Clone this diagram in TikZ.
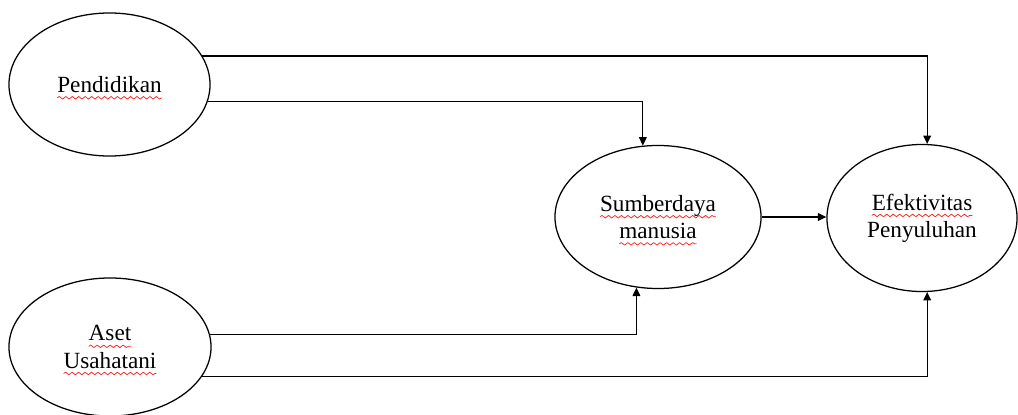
\documentclass[tikz,border=0pt]{standalone}
\usepackage{fontspec}
\setmainfont{Liberation Serif}
\usetikzlibrary{shapes.geometric,arrows.meta,decorations.pathmorphing}

% red wavy underline, as a spell checker marks words
\newsavebox\wavebox
\newcommand\redwave[1]{%
  \sbox\wavebox{#1}%
  \rlap{\tikz[overlay,baseline=0pt,x=1pt,y=1pt]{%
    \draw[red!85, line width=0.55pt, line join=round,
      decorate, decoration={snake, amplitude=0.9pt, segment length=4.6pt}]
      (0,-3.8) -- (\the\wd\wavebox,-3.8);}}%
  \usebox\wavebox}

\tikzset{
  var/.style={draw, ellipse, line width=0.9pt, inner sep=0pt, align=center,
    font=\fontsize{16.5}{19.3}\selectfont},
  link/.style={line width=0.9pt, -{Triangle[length=6pt,width=5.5pt]}}
}

\begin{document}
\begin{tikzpicture}[x=0.025cm, y=-0.025cm]
  \useasboundingbox (0,0) rectangle (1018,414);

  % variables
  \node[var, minimum width=5.025cm, minimum height=3.575cm] (pend) at (109.5,84.5) {\redwave{Pendidikan}};
  \node[var, minimum width=5.05cm, minimum height=3.45cm] (aset) at (110,347) {\redwave{Aset}\\\redwave{Usahatani}};
  \node[var, minimum width=5.15cm, minimum height=3.575cm] (sdm) at (658,217) {\redwave{Sumberdaya}\\\redwave{manusia}};
  \node[var, minimum width=4.75cm, minimum height=3.675cm] (ef) at (922,218) {\redwave{Efektivitas}\\Penyuluhan};

  % paths between variables
  \draw[link] (pend.17) -| (ef.86);
  \draw[link] (pend.-10) -| (sdm.102);
  \draw[link] (aset.7) -| (sdm.253);
  \draw[link] (aset.-18) -| (ef.274);
  \draw[link] (sdm.east) -- (sdm.east -| ef.west);
\end{tikzpicture}
\end{document}
